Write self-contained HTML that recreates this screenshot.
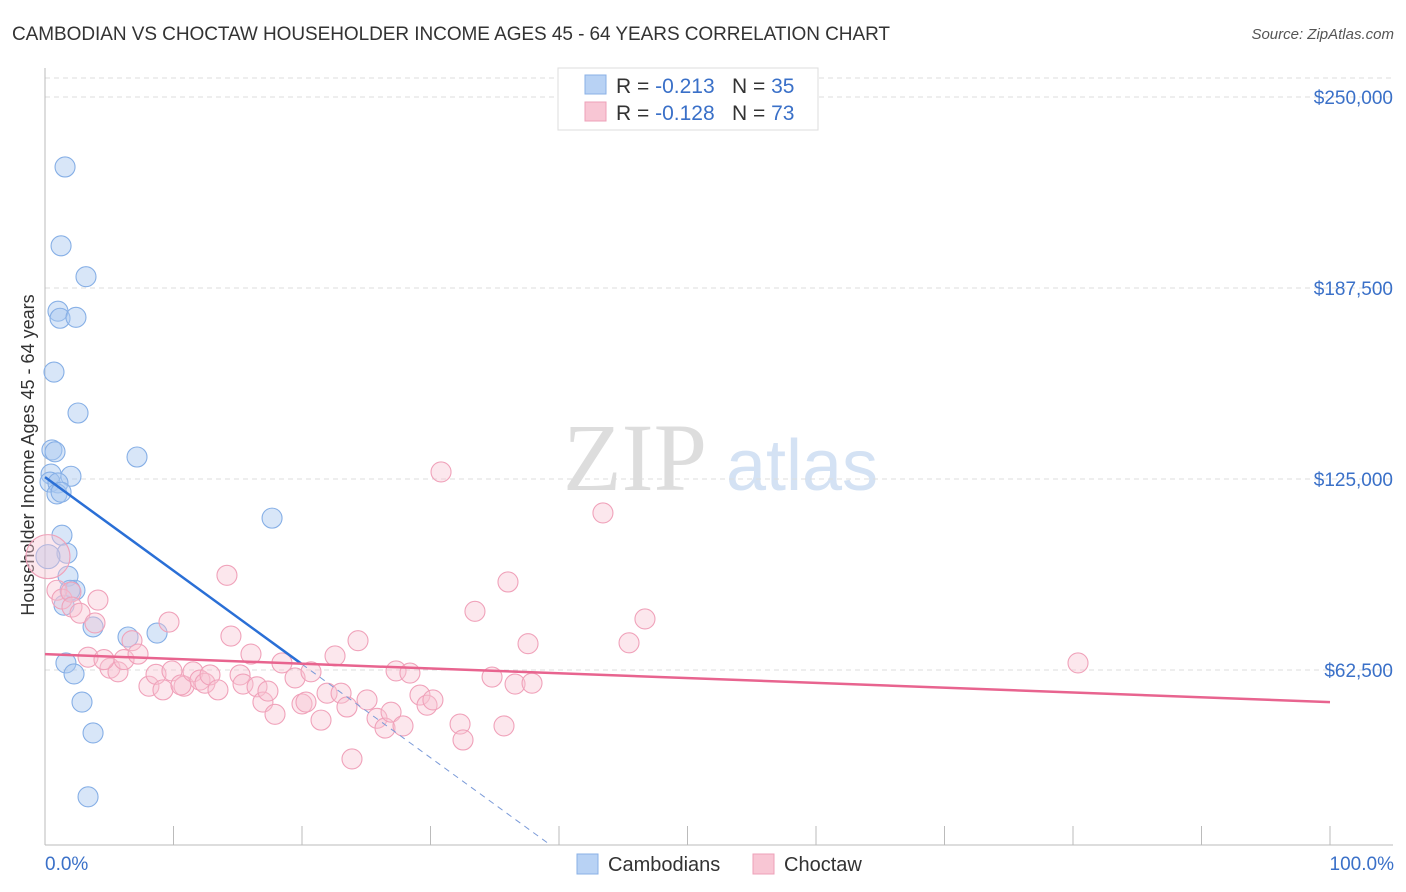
<!DOCTYPE html>
<html><head><meta charset="utf-8"><style>
body{margin:0;background:#fff;font-family:"Liberation Sans",sans-serif;}
svg{display:block}
</style></head><body>
<svg id="c" width="1406" height="892" xmlns="http://www.w3.org/2000/svg">
<text x="12" y="40" font-size="19" fill="#333" textLength="878">CAMBODIAN VS CHOCTAW HOUSEHOLDER INCOME AGES 45 - 64 YEARS CORRELATION CHART</text>
<text x="1394" y="39" font-size="15" fill="#555" font-style="italic" text-anchor="end">Source: ZipAtlas.com</text>
<g><text x="635" y="490" font-size="96" fill="#ddd" text-anchor="middle" font-family="Liberation Serif, serif">ZIP</text><text x="802" y="490" font-size="72" fill="#d4e2f4" text-anchor="middle">atlas</text></g>
<text transform="translate(34,455) rotate(-90)" font-size="18" fill="#333" text-anchor="middle">Householder Income Ages 45 - 64 years</text>
<g id="grid"></g><g id="axes"></g><g id="pts"></g><g id="lines"></g>
<g>
<rect x="558" y="68" width="260" height="62" fill="#fff" stroke="#ddd"/>
<rect x="585" y="75" width="21" height="19" fill="#b8d2f4" stroke="#8ab0e6"/>
<rect x="585" y="102" width="21" height="19" fill="#f8c6d4" stroke="#eea0b8"/>
<text x="616" y="93" font-size="21" fill="#333">R = <tspan fill="#3a70c8">-0.213</tspan><tspan x="732">N = </tspan><tspan fill="#3a70c8">35</tspan></text>
<text x="616" y="120" font-size="21" fill="#333">R = <tspan fill="#3a70c8">-0.128</tspan><tspan x="732">N = </tspan><tspan fill="#3a70c8">73</tspan></text>
</g>
<g>
<rect x="577" y="854" width="21" height="20" fill="#b8d2f4" stroke="#8ab0e6"/>
<text x="608" y="871" font-size="20" fill="#333">Cambodians</text>
<rect x="753" y="854" width="21" height="20" fill="#f8c6d4" stroke="#eea0b8"/>
<text x="784" y="871" font-size="20" fill="#333">Choctaw</text>
</g>
<text x="45" y="870" font-size="19" fill="#3a70c8">0.0%</text>
<text x="1394" y="870" font-size="19" fill="#3a70c8" text-anchor="end">100.0%</text>
</svg>
<script>
const yTicks=[62500,125000,187500,250000];
const yTickLabels=["$62,500","$125,000","$187,500","$250,000"];
const camX=[1.56,1.25,3.19,1.01,1.17,2.41,0.70,2.57,0.54,0.78,7.16,0.47,2.02,0.39,1.01,0.93,1.25,17.67,1.32,1.71,1.79,2.33,1.48,1.95,3.74,6.46,8.72,1.63,2.26,2.88,3.74,3.35,0.23];
const camY=[227.1,201.3,191.2,179.9,177.6,177.9,160.0,146.6,134.5,133.9,132.2,126.6,125.9,124.0,123.7,120.1,120.7,112.2,106.6,100.7,93.2,88.6,83.7,88.6,76.6,73.3,74.6,64.8,61.2,52.0,41.9,21.0,99.6];
const choX=[0.23,0.93,1.32,2.02,2.10,2.72,4.12,3.89,5.06,3.35,5.68,4.59,6.15,6.77,7.24,8.09,8.64,9.18,9.65,9.88,10.82,10.58,11.52,12.06,12.45,12.84,13.46,14.16,14.47,15.18,15.41,16.03,16.50,16.96,17.35,17.90,18.44,19.46,20.00,20.31,20.70,21.48,21.95,22.57,23.04,23.50,23.89,24.36,25.06,25.84,26.46,26.93,27.32,27.86,28.40,29.18,29.73,30.19,30.82,32.30,32.53,33.46,34.79,36.03,35.72,36.58,37.59,37.90,43.42,45.45,46.69,80.39];
const choY=[99.6,88.6,85.7,88.0,83.1,81.1,85.4,77.9,63.1,66.7,61.9,65.9,65.9,72.1,67.7,57.2,61.1,56.0,78.2,62.2,57.2,57.6,61.9,59.2,58.2,60.9,56.0,93.5,73.6,60.9,57.9,67.7,57.0,52.0,55.6,48.0,64.8,59.9,51.4,52.0,61.9,46.1,54.9,67.1,54.9,50.4,33.4,72.1,52.7,46.7,43.5,48.7,62.2,44.2,61.5,54.3,51.0,52.7,127.3,44.8,39.6,81.7,60.2,91.3,44.2,57.9,71.1,58.2,113.9,71.4,79.2,64.8];
const camTrend=[125.6,-3.06];
const choTrend=[67.7,-0.157];
const NS="http://www.w3.org/2000/svg";
const X=v=>45+v*12.85, Y=v=>861-v*1000*191/62500;
function mk(t,a,p){const e=document.createElementNS(NS,t);for(const k in a)e.setAttribute(k,a[k]);p.appendChild(e);return e;}
const grid=document.getElementById('grid'),axes=document.getElementById('axes'),pts=document.getElementById('pts'),lines=document.getElementById('lines');
mk('line',{x1:45,x2:1393,y1:78,y2:78,stroke:'#ddd','stroke-dasharray':'5,4'},grid);
yTicks.forEach((t,i)=>{
 const g=mk('line',{x1:45,x2:1393,y1:Y(t/1000),y2:Y(t/1000),stroke:'#ddd','stroke-dasharray':'5,4'},grid);
 
 
 const tx=mk('text',{x:1393,y:Y(t/1000)+7,'font-size':19,fill:'#3a70c8','text-anchor':'end'},axes);
 tx.textContent=yTickLabels[i];
 
 
});
mk('line',{x1:45,x2:45,y1:68,y2:845,stroke:'#bbb'},axes);
mk('line',{x1:45,x2:1393,y1:845,y2:845,stroke:'#bbb'},axes);
for(let i=0;i<=10;i++){mk('line',{x1:X(i*10),x2:X(i*10),y1:826,y2:845,stroke:'#bbb'},axes);}
camX.forEach((x,i)=>{const c=mk('circle',{cx:X(x),cy:Y(camY[i]),r:i==camX.length-1?12:10,fill:'rgba(168,200,240,0.45)',stroke:'#86afe6','stroke-width':1.1},pts);
 
 });
choX.forEach((x,i)=>{const c=mk('circle',{cx:X(x),cy:Y(choY[i]),r:i==0?22:10,fill:'rgba(248,196,210,0.4)',stroke:'#f0a2ba','stroke-width':1.1},pts);
 
 });
const cy=x=>camTrend[0]+camTrend[1]*x, py=x=>choTrend[0]+choTrend[1]*x;
const xe=(camTrend[0]-(861-845)*62.5/191)/(-camTrend[1]);
let l=mk('line',{x1:X(20),y1:Y(cy(20)),x2:X(xe),y2:Y(cy(xe)),stroke:'#7a9ad8','stroke-dasharray':'6,5','stroke-width':1},lines);

l=mk('line',{x1:X(0),y1:Y(cy(0)),x2:X(20),y2:Y(cy(20)),stroke:'#2a6fd6','stroke-width':2.5},lines);

l=mk('line',{x1:X(0),y1:Y(py(0)),x2:X(100),y2:Y(py(100)),stroke:'#e8648f','stroke-width':2.5},lines);

</script>
</body></html>
